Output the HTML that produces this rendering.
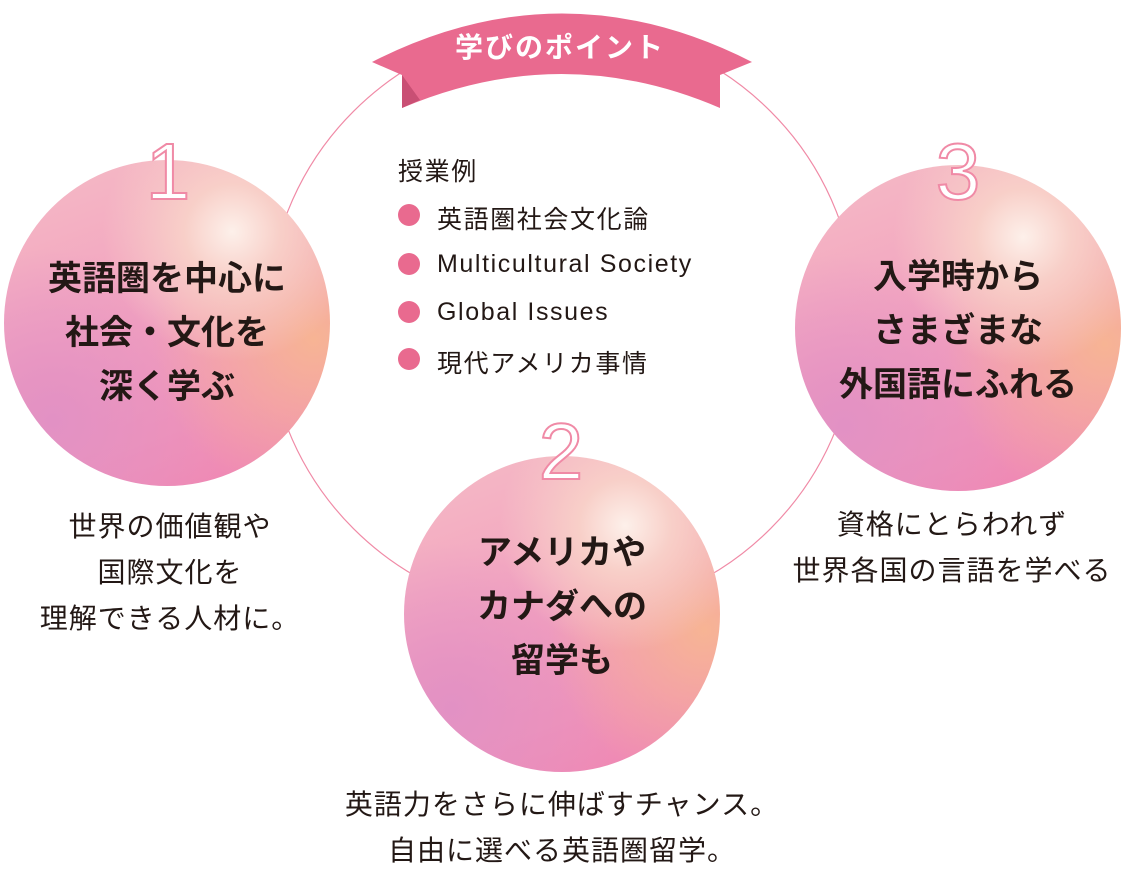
<!DOCTYPE html>
<html><head><meta charset="utf-8"><style>
body{margin:0;width:1124px;height:870px;background:#fff;position:relative;overflow:hidden;font-family:"Liberation Sans","Noto Sans CJK JP",sans-serif;color:#231815}
.ball{position:absolute;border-radius:50%;
background:radial-gradient(circle at 70% 22%,#fdf0ea 0%,#f8cfc8 14%,rgba(248,190,190,0) 38%),
radial-gradient(circle at 95% 55%,#f7b494 0%,rgba(247,170,150,0) 45%),
radial-gradient(circle at 15% 80%,#e291c4 0%,rgba(230,130,190,0) 45%),
linear-gradient(160deg,#f5bcc6 0%,#f2a2bf 45%,#ee84b2 100%);}
.bt{position:absolute;text-align:center;font-weight:bold;font-size:34px;line-height:54px;width:326px;color:#231815}
.num{position:absolute;font-size:80px;font-weight:normal;color:#fff;-webkit-text-stroke:2px #f08aa6;width:100px;text-align:center;line-height:80px}
.cap{position:absolute;text-align:center;font-size:28px;line-height:46px;color:#231815;letter-spacing:1px}
.li{position:absolute;left:398px;font-size:25px;letter-spacing:1.6px}
.dot{position:absolute;left:398px;width:22px;height:22px;border-radius:50%;background:#e96a8f}
</style></head><body>
<svg width="1124" height="870" style="position:absolute;left:0;top:0">
<circle cx="562" cy="320" r="295" fill="none" stroke="#f08aa6" stroke-width="1.2"/>
<path d="M372,62 L402,75 L402,108 Q562,40 720,108 L720,75 L752,62 Q562,-35 372,62Z" fill="#e96a8f"/>
<path d="M402,75 L402,108 L420,100Z" fill="#c94f74"/>
</svg>
<div style="position:absolute;left:430px;top:26px;width:260px;text-align:center;color:#fff;font-size:28px;font-weight:bold;letter-spacing:2px">学びのポイント</div>
<div class="ball" style="left:4px;top:160px;width:326px;height:326px"></div>
<div class="ball" style="left:404px;top:456px;width:316px;height:316px"></div>
<div class="ball" style="left:795px;top:165px;width:326px;height:326px"></div>
<div class="num" style="left:118px;top:132px">1</div>
<div class="num" style="left:511px;top:412px">2</div>
<div class="num" style="left:908px;top:132px">3</div>
<div class="bt" style="left:4px;top:252px">英語圏を中心に<br>社会・文化を<br>深く学ぶ</div>
<div class="bt" style="left:399px;top:526px">アメリカや<br>カナダへの<br>留学も</div>
<div class="bt" style="left:795px;top:250px">入学時から<br>さまざまな<br>外国語にふれる</div>
<div class="li" style="top:152px;left:398px">授業例</div>
<div class="dot" style="top:204px"></div><div class="li" style="left:437px;top:200px">英語圏社会文化論</div>
<div class="dot" style="top:253px"></div><div class="li" style="left:437px;top:250px">Multicultural Society</div>
<div class="dot" style="top:301px"></div><div class="li" style="left:437px;top:298px">Global Issues</div>
<div class="dot" style="top:348px"></div><div class="li" style="left:437px;top:344px">現代アメリカ事情</div>
<div class="cap" style="left:0;width:340px;top:504px">世界の価値観や<br>国際文化を<br>理解できる人材に。</div>
<div class="cap" style="left:300px;width:524px;top:782px">英語力をさらに伸ばすチャンス。<br>自由に選べる英語圏留学。</div>
<div class="cap" style="left:752px;width:400px;top:502px">資格にとらわれず<br>世界各国の言語を学べる</div>
</body></html>
